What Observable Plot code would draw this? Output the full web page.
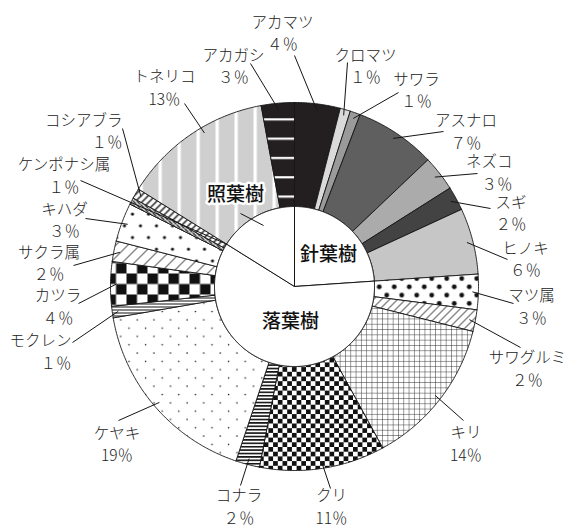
<!DOCTYPE html>
<html><head><meta charset="utf-8">
<script src="https://cdn.jsdelivr.net/npm/d3@7"></script>
<script src="https://cdn.jsdelivr.net/npm/@observablehq/plot@0.6"></script>
<style>html,body{margin:0;padding:0;background:#fff}svg{display:block}</style>
</head><body><div id="chart"></div>
<script>
// ---- data ----
const species = ["アカマツ","クロマツ","サワラ","アスナロ","ネズコ","スギ","ヒノキ","マツ属","サワグルミ","キリ","クリ","コナラ","ケヤキ","モクレン","カツラ","サクラ属","キハダ","ケンポナシ属","コシアブラ","トネリコ","アカガシ"];
const shares = [4.0,0.9,0.9,7.1,3.1,2.1,5.8,3.1,1.9,13.1,11.0,2.1,17.1,1.0,3.9,1.8,3.4,0.6,0.9,13.2,2.9];
const pctLabels = ["４％","１％","１％","７％","３％","２％","６％","３％","２％","14％","11％","２％","19％","１％","４％","２％","３％","１％","１％","13％","３％"];
const groups = ["針葉樹","針葉樹","針葉樹","針葉樹","針葉樹","針葉樹","針葉樹","落葉樹","落葉樹","落葉樹","落葉樹","落葉樹","落葉樹","落葉樹","落葉樹","落葉樹","落葉樹","落葉樹","落葉樹","照葉樹","照葉樹"];
const groupNames = ["針葉樹","落葉樹","照葉樹"];

// ---- styles ----
const fills = {
  "アカマツ":"#231f20","クロマツ":"#dadada","サワラ":"#9a9a9a","アスナロ":"#5f5f5f","ネズコ":"#ababab","スギ":"#434343","ヒノキ":"#c6c6c6",
  "マツ属":"url(#dotsBig)","サワグルミ":"url(#hatchA)","キリ":"url(#grid)","クリ":"url(#checkS)","コナラ":"url(#hstripe)","ケヤキ":"url(#dotsS)",
  "モクレン":"url(#hstripeThin)","カツラ":"url(#checkL)","サクラ属":"url(#hatchB)","キハダ":"url(#dotsM)","ケンポナシ属":"url(#hatchDense)",
  "コシアブラ":"url(#ladder)","トネリコ":"url(#vstripe)","アカガシ":"url(#hdash)"
};
// ---- label layout (chart units: px from centre, y up) ----
const layout = {
  "アカマツ":{t:[-12,254.5],s:[0,231]},
  "クロマツ":{t:[71,221.5],s:[53,224]},
  "サワラ":{t:[122,197.5],s:[104,194]},
  "アスナロ":{t:[171.5,156],s:[149,155]},
  "ネズコ":{t:[218,115],s:[183,113],anchor:"end"},
  "スギ":{t:[201,74.5],s:[196,78],anchor:"start"},
  "ヒノキ":{t:[231,28.5],s:[213,27]},
  "マツ属":{t:[237,-19],s:[219,-17]},
  "サワグルミ":{t:[233,-81],s:[226,-61]},
  "キリ":{t:[171.5,-156],s:[169,-134]},
  "クリ":{t:[37,-219],s:[36,-202]},
  "コナラ":{t:[-55.5,-219],s:[-54,-199]},
  "ケヤキ":{t:[-177.5,-156.5],s:[-176,-134]},
  "モクレン":{t:[-223,-64],s:[-222,-56],anchor:"end"},
  "カツラ":{t:[-236.5,-19],s:[-216,-17]},
  "サクラ属":{t:[-245.5,24.5],s:[-221,21]},
  "キハダ":{t:[-230,67.5],s:[-209,68]},
  "ケンポナシ属":{t:[-230.5,112],s:[-214,106],toGroupEdge:true},
  "コシアブラ":{t:[-172,156.5],s:[-172,158],anchor:"end"},
  "トネリコ":{t:[-130,200],s:[-110,183],a:329.6},
  "アカガシ":{t:[-61,221.5],s:[-44,223]}
};
const groupLabelPos = {"照葉樹":[-59,92],"針葉樹":[34,32],"落葉樹":[-4,-35]};
const W = 569, H = 528, CX = 294, CY = 286;
const R_OUT = 184, R_IN = 80, R_LEAD = 178;

// ---- geometry via d3.pie ----
const rows = species.map((s,i)=>({species:s, share:shares[i], label:pctLabels[i], group:groups[i]}));
const pie = d3.pie().sort(null).value(d=>d.share).startAngle(0).endAngle(2*Math.PI);
const arcs = pie(rows);
const gRows = groupNames.map(g=>({group:g, share:d3.sum(rows.filter(r=>r.group===g), r=>r.share)}));
const gArcs = pie(gRows);

function ring(a0,a1,r0,r1){
  const n = Math.max(2, Math.ceil((a1-a0)/(Math.PI/360)));
  const pts=[];
  for(let k=0;k<=n;k++){const a=a0+(a1-a0)*k/n; pts.push({x:r1*Math.sin(a), y:r1*Math.cos(a)});}
  if(r0===0) pts.push({x:0,y:0});
  else for(let k=n;k>=0;k--){const a=a0+(a1-a0)*k/n; pts.push({x:r0*Math.sin(a), y:r0*Math.cos(a)});}
  pts.push(pts[0]);
  return pts;
}

const sliceMarks = arcs.map(a => Plot.line(ring(a.startAngle,a.endAngle,R_IN,R_OUT), {x:"x", y:"y", fill: fills[a.data.species], stroke:"#151515", strokeWidth:0.9}));
const groupMarks = gArcs.map(a => Plot.line(ring(a.startAngle,a.endAngle,0,R_IN), {x:"x", y:"y", fill:"white", stroke:"#151515", strokeWidth:1}));

const laurelEdge = gArcs.find(a=>a.data.group==="落葉樹").endAngle;
const leaders = arcs.map(a=>{
  const L = layout[a.data.species];
  let ang = L.a!=null ? L.a*Math.PI/180 : (a.startAngle+a.endAngle)/2, r = R_LEAD;
  if (L.toGroupEdge){ ang = laurelEdge; r = R_IN; }
  return {x1:L.s[0], y1:L.s[1], x2:r*Math.sin(ang), y2:r*Math.cos(ang)};
});
const labels = arcs.map(a=>{
  const L = layout[a.data.species];
  return {x:L.t[0], y:L.t[1], t:a.data.species + "\n" + a.data.label, anchor:L.anchor || "middle"};
});
const gText = groupNames.map(g=>({x:groupLabelPos[g][0], y:groupLabelPos[g][1], t:g}));

const FONT = "'Noto Sans CJK JP', 'Liberation Serif', serif";
const textMarks = ["start","middle","end"].map(an =>
  Plot.text(labels.filter(d=>d.anchor===an), {x:"x", y:"y", text:"t", textAnchor:an, lineHeight:1.4516, fontFamily:FONT, fontSize:15.5, fontWeight:300, fill:"#222"}));

const chart = Plot.plot({
  width: W, height: H, margin: 0,
  x: {domain:[-CX, W-CX], axis:null},
  y: {domain:[CY-H, CY], axis:null},
  marks: [
    ...sliceMarks,
    ...groupMarks,
    Plot.link(leaders, {x1:"x1", y1:"y1", x2:"x2", y2:"y2", stroke:"#151515", strokeWidth:1}),
    Plot.link([{x1:-54,y1:73,x2:-31,y2:61}], {x1:"x1", y1:"y1", x2:"x2", y2:"y2", stroke:"#151515", strokeWidth:1}),
    ...textMarks,
    Plot.text(gText, {x:"x", y:"y", text:"t", fontFamily:FONT, fontSize:19, fontWeight:500, fill:"#111", stroke:"white", strokeWidth:5})
  ]
});
const defs = document.createElementNS("http://www.w3.org/2000/svg","defs");
defs.innerHTML = `
<pattern id="dotsBig" patternUnits="userSpaceOnUse" width="15" height="16.6"><rect width="15" height="16.6" fill="#fff"/><circle cx="3.75" cy="4.15" r="2.4" fill="#111"/><circle cx="11.25" cy="12.45" r="2.4" fill="#111"/></pattern>
<pattern id="hatchA" patternUnits="userSpaceOnUse" width="8" height="8"><rect width="8" height="8" fill="#fff"/><path d="M-2,2L2,-2M0,8L8,0M6,10L10,6" stroke="#111" stroke-width="1"/></pattern>
<pattern id="grid" patternUnits="userSpaceOnUse" width="5.3" height="5.3"><rect width="5.3" height="5.3" fill="#fff"/><path d="M0,0V5.3M0,0H5.3" stroke="#222" stroke-width="0.9"/></pattern>
<pattern id="checkS" patternUnits="userSpaceOnUse" width="9.4" height="9.4"><rect width="9.4" height="9.4" fill="#fff"/><rect width="4.7" height="4.7" fill="#111"/><rect x="4.7" y="4.7" width="4.7" height="4.7" fill="#111"/></pattern>
<pattern id="hstripe" patternUnits="userSpaceOnUse" width="10" height="3.4"><rect width="10" height="3.4" fill="#fff"/><rect width="10" height="1.6" fill="#111"/></pattern>
<pattern id="dotsS" patternUnits="userSpaceOnUse" width="16.6" height="16.6"><rect width="16.6" height="16.6" fill="#fff"/><circle cx="4" cy="4" r="0.8" fill="#222"/><circle cx="12.3" cy="12.3" r="0.8" fill="#222"/></pattern>
<pattern id="hstripeThin" patternUnits="userSpaceOnUse" width="10" height="3"><rect width="10" height="3" fill="#fff"/><rect width="10" height="1" fill="#111"/></pattern>
<pattern id="checkL" patternUnits="userSpaceOnUse" width="21" height="21"><rect width="21" height="21" fill="#fff"/><rect width="10.5" height="10.5" fill="#111"/><rect x="10.5" y="10.5" width="10.5" height="10.5" fill="#111"/></pattern>
<pattern id="hatchB" patternUnits="userSpaceOnUse" width="12" height="12"><rect width="12" height="12" fill="#fff"/><path d="M-3,3L3,-3M0,12L12,0M9,15L15,9" stroke="#111" stroke-width="1"/></pattern>
<pattern id="dotsM" patternUnits="userSpaceOnUse" width="16" height="23.4"><rect width="16" height="23.4" fill="#fff"/><circle cx="4" cy="3" r="1.6" fill="#111"/><circle cx="12" cy="14.7" r="1.6" fill="#111"/></pattern>
<pattern id="hatchDense" patternUnits="userSpaceOnUse" width="4" height="4"><rect width="4" height="4" fill="#fff"/><path d="M-1,-1L5,5" stroke="#111" stroke-width="1.5"/></pattern>
<pattern id="ladder" patternUnits="userSpaceOnUse" width="7" height="7"><rect width="7" height="7" fill="#fff"/><path d="M-2,2L2,-2M0,7L7,0M5,9L9,5" stroke="#111" stroke-width="1.4"/></pattern>
<pattern id="vstripe" patternUnits="userSpaceOnUse" width="19" height="10"><rect width="19" height="10" fill="#cfcfcf"/><rect x="6" width="3.3" height="10" fill="#fff"/></pattern>
<pattern id="hdash" patternUnits="userSpaceOnUse" width="10" height="19.3"><rect width="10" height="19.3" fill="#231f20"/><rect y="2" width="10" height="2.2" fill="#fff"/></pattern>`;
chart.insertBefore(defs, chart.firstChild);
document.getElementById("chart").append(chart);
</script></body></html>
